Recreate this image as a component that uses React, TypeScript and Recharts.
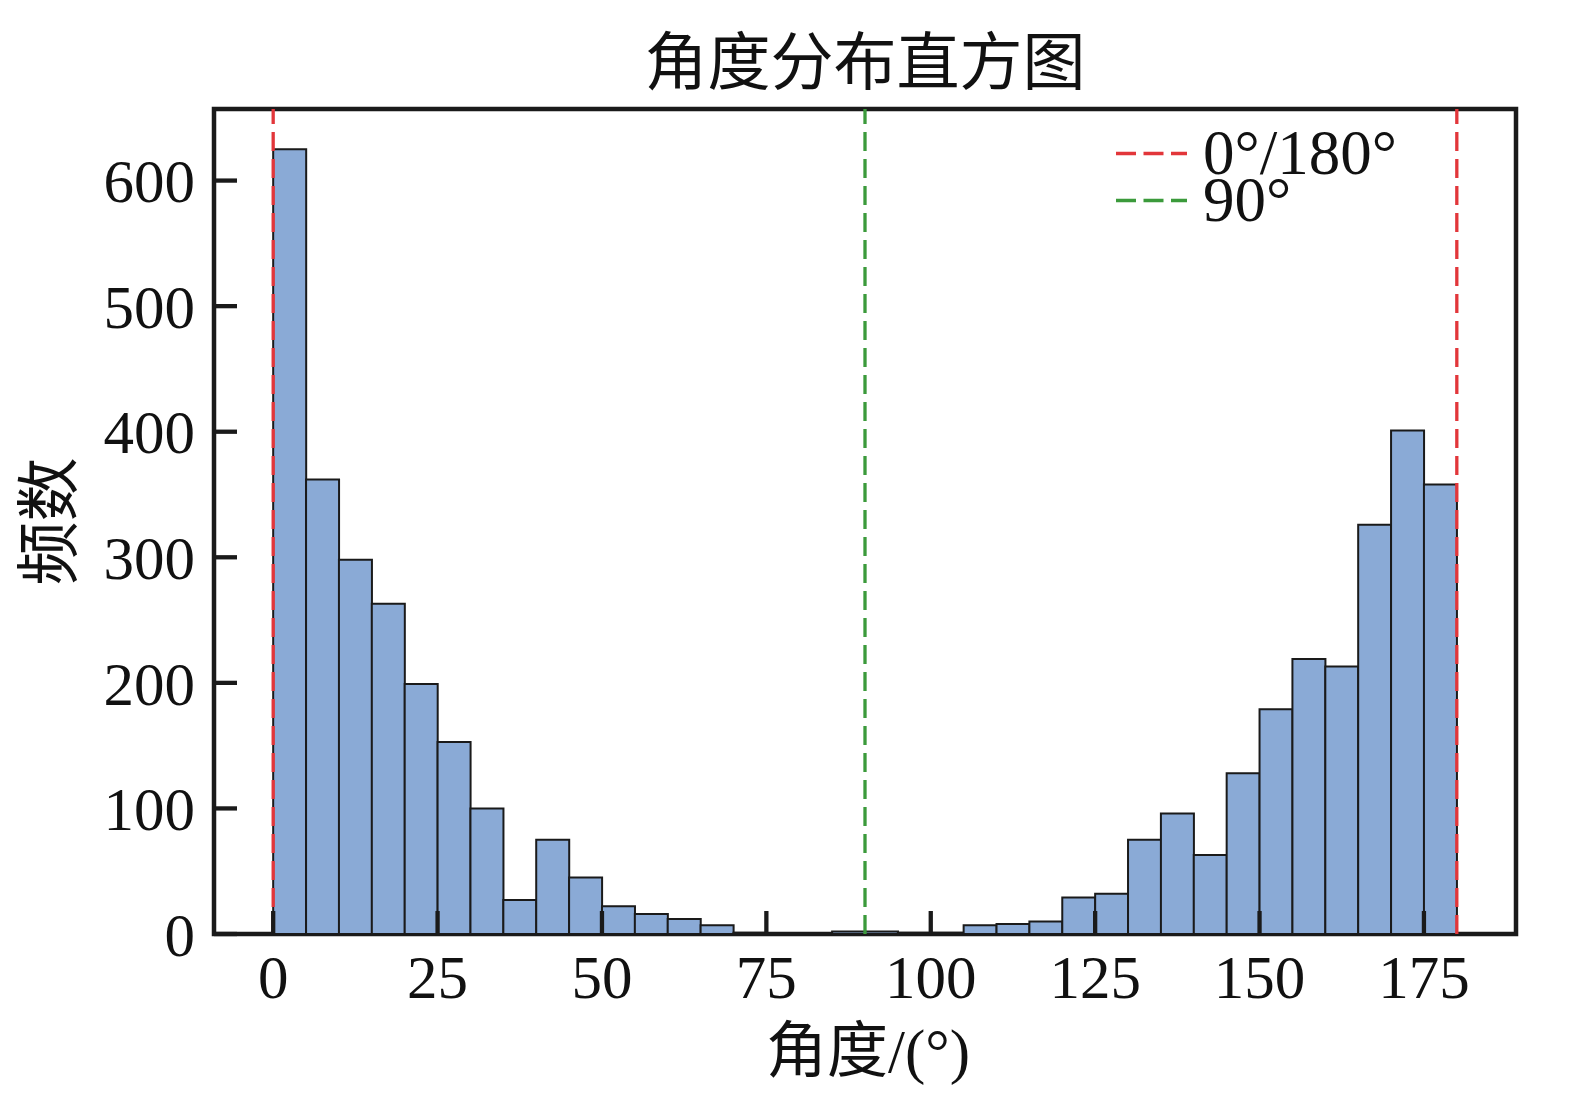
import React from "react";
import { ComposedChart, Bar, XAxis, YAxis, ReferenceLine, ReferenceArea, Legend } from "recharts";

// histogram: 5° bins, left edge of each bin
const BIN_LEFT = [
  0, 5, 10, 15, 20, 25, 30, 35, 40, 45, 50, 55, 60, 65, 70, 75, 80, 85,
  90, 95, 100, 105, 110, 115, 120, 125, 130, 135, 140, 145, 150, 155, 160, 165, 170, 175,
];
const COUNTS = [
  625, 362, 298, 263, 199, 153, 100, 27, 75, 45, 22, 16, 12, 7, 1, 0, 0, 2,
  2, 1, 1, 7, 8, 10, 29, 32, 75, 96, 63, 128, 179, 219, 213, 326, 401, 358,
];
const BIN_WIDTH = 5;

const X_TICKS = [0, 25, 50, 75, 100, 125, 150, 175];
const Y_TICKS = [0, 100, 200, 300, 400, 500, 600];
const X_DOMAIN = [-9, 189];
const Y_DOMAIN = [0, 657];

const LEGEND_LABELS = ["0°/180°", "90°"];
const LEGEND_COLORS = ["#e2363a", "#3b9a3b"];

const TITLE = "角度分布直方图";
const X_LABEL = "角度/(°)";
const Y_LABEL = "频数";

const FONT = "'Liberation Serif', 'Times New Roman', 'Noto Sans CJK SC', serif";
const INK = "#1a1a1a";
const BAR_FILL = "#8aaad6";
const LINE_DASH = "19 8";
const LEGEND_DASH = "20 7.5";

const CHART_W = 1571;
const CHART_H = 1082;
const MARGIN = { top: 101, right: 63, bottom: 0, left: 0 };
const Y_AXIS_W = 206;
const X_AXIS_H = 156;
const PLOT_W = CHART_W - MARGIN.left - MARGIN.right - Y_AXIS_W;

const TICK_LEN = 23;
const X_TICK_MARGIN = 21;
const Y_TICK_MARGIN = 19;
const TICK_FONT = 61;

const data = BIN_LEFT.map((left, i) => ({ mid: left + BIN_WIDTH / 2, count: COUNTS[i] }));

// ticks point into the plot, labels stay outside
const XTick = (props: any) => {
  const { x, y, payload } = props;
  const axisY = y - X_TICK_MARGIN;
  return (
    <g>
      <line x1={x} x2={x} y1={axisY} y2={axisY - TICK_LEN} stroke={INK} strokeWidth={4.3} />
      <text x={x} y={y} dy="0.71em" textAnchor="middle" fontSize={TICK_FONT} fontFamily={FONT} fill="#111">
        {payload.value}
      </text>
    </g>
  );
};

const YTick = (props: any) => {
  const { x, y, payload } = props;
  const axisX = x + Y_TICK_MARGIN;
  return (
    <g>
      <line x1={axisX} x2={axisX + TICK_LEN} y1={y} y2={y} stroke={INK} strokeWidth={4.3} />
      <text x={x} y={y} dy="0.355em" textAnchor="end" fontSize={TICK_FONT} fontFamily={FONT} fill="#111">
        {payload.value}
      </text>
    </g>
  );
};

const LegendBox = () => (
  <div style={{ display: "flex", flexDirection: "column" }}>
    {LEGEND_LABELS.map((label, i) => (
      <div key={label} style={{ display: "flex", alignItems: "center", height: 47 }}>
        <svg width={71} height={47}>
          <line x1={0} x2={71} y1={23.5} y2={23.5} stroke={LEGEND_COLORS[i]} strokeWidth={3.5} strokeDasharray={LEGEND_DASH} />
        </svg>
        <span style={{ marginLeft: 16, fontSize: 63, lineHeight: "47px", fontFamily: FONT, color: "#111" }}>
          {label}
        </span>
      </div>
    ))}
  </div>
);

export default function App() {
  return (
    <div style={{ position: "relative", width: CHART_W, height: CHART_H, overflow: "hidden", background: "#fff" }}>
      <div
        style={{
          position: "absolute",
          left: MARGIN.left + Y_AXIS_W,
          width: PLOT_W,
          top: 24,
          textAlign: "center",
          fontSize: 63,
          lineHeight: "63px",
          fontFamily: FONT,
          color: "#111",
        }}
      >
        {TITLE}
      </div>
      <ComposedChart width={CHART_W} height={CHART_H} data={data} margin={MARGIN} barCategoryGap="0%" barGap={0}>
        <Bar dataKey="count" fill={BAR_FILL} stroke={INK} strokeWidth={2} isAnimationActive={false} />
        <ReferenceLine x={0} stroke={LEGEND_COLORS[0]} strokeWidth={3.3} strokeDasharray={LINE_DASH} />
        <ReferenceLine x={180} stroke={LEGEND_COLORS[0]} strokeWidth={3.3} strokeDasharray={LINE_DASH} />
        <ReferenceLine x={90} stroke={LEGEND_COLORS[1]} strokeWidth={3.3} strokeDasharray={LINE_DASH} />
        {/* axes frame */}
        <ReferenceArea
          x1={X_DOMAIN[0]}
          x2={X_DOMAIN[1]}
          y1={Y_DOMAIN[0]}
          y2={Y_DOMAIN[1]}
          fill="none"
          fillOpacity={0}
          stroke={INK}
          strokeWidth={4.5}
          strokeOpacity={1}
        />
        <XAxis
          dataKey="mid"
          type="number"
          domain={X_DOMAIN}
          ticks={X_TICKS}
          height={X_AXIS_H}
          tickSize={0}
          tickMargin={X_TICK_MARGIN}
          tickLine={false}
          tick={<XTick />}
          axisLine={false}
          label={{ value: X_LABEL, position: "insideBottom", offset: 18, dx: 3, fontSize: 61, fontFamily: FONT, fill: "#111" }}
        />
        <YAxis
          type="number"
          domain={Y_DOMAIN}
          ticks={Y_TICKS}
          width={Y_AXIS_W}
          tickSize={0}
          tickMargin={Y_TICK_MARGIN}
          tickLine={false}
          tick={<YTick />}
          axisLine={false}
          label={{
            value: Y_LABEL,
            angle: -90,
            position: "insideLeft",
            offset: 40,
            fontSize: 64,
            fontFamily: FONT,
            fill: "#111",
            style: { textAnchor: "middle" },
          }}
        />
        <Legend
          layout="horizontal"
          verticalAlign="middle"
          align="center"
          content={<LegendBox />}
          wrapperStyle={{ left: 1108, top: 122, width: 400 }}
        />
      </ComposedChart>
    </div>
  );
}
